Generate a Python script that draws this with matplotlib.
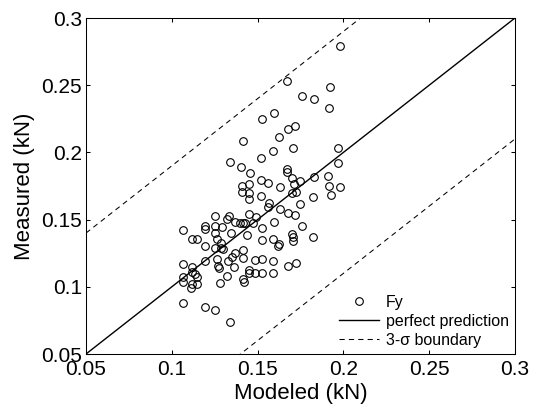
import matplotlib
matplotlib.use("Agg")
import matplotlib.pyplot as plt
from matplotlib.ticker import FormatStrFormatter
import numpy as np

plt.rcParams['font.family'] = ['Liberation Sans', 'DejaVu Sans']

modeled = [0.198, 0.167, 0.192, 0.176, 0.183, 0.1916, 0.1597, 0.1527, 0.1718, 0.1679, 0.1625, 0.1417,
           0.1339, 0.1405, 0.1456, 0.1409, 0.1452, 0.1409, 0.1448, 0.1452, 0.1448, 0.1335, 0.1323, 0.1252,
           0.1252, 0.1192, 0.1192, 0.129, 0.1368, 0.1400, 0.1415, 0.1425, 0.1475, 0.149, 0.1063, 0.1252,
           0.1343, 0.1436, 0.1116, 0.1145, 0.1262,
           0.1592, 0.1708, 0.197, 0.152, 0.197, 0.167, 0.167, 0.1699, 0.1747, 0.152, 0.1562, 0.163, 0.1714,
           0.183, 0.1912, 0.1916, 0.198, 0.1928, 0.1699, 0.1722, 0.1825, 0.152, 0.1568, 0.1562, 0.1747,
           0.163, 0.1675, 0.1718, 0.1597, 0.1527, 0.176, 0.1702, 0.1825, 0.1524, 0.1592,
           0.162, 0.1625, 0.1708, 0.1708, 0.1527, 0.1592, 0.1675, 0.1722, 0.1485, 0.1527, 0.1592,
           0.1193, 0.1285, 0.1252, 0.1285, 0.1300, 0.1063, 0.1116, 0.1193, 0.1265, 0.127, 0.1277, 0.1329,
           0.1349, 0.1368, 0.1413, 0.1417, 0.1362, 0.1323, 0.1063, 0.1116, 0.1135, 0.1149, 0.1063, 0.1116,
           0.1149, 0.111, 0.1281, 0.1413, 0.1421, 0.1452, 0.1452, 0.1485, 0.1063, 0.1193, 0.1252, 0.1339]
measured = [0.279, 0.253, 0.249, 0.242, 0.2395, 0.2328, 0.2295, 0.2246, 0.2196, 0.2172, 0.2117, 0.2085,
            0.1926, 0.1889, 0.1844, 0.1752, 0.1767, 0.1708, 0.1698, 0.1653, 0.1544, 0.1529, 0.1504, 0.1529,
            0.1455, 0.1455, 0.1430, 0.1447, 0.148, 0.1475, 0.1478, 0.1472, 0.1472, 0.152, 0.1423, 0.1398,
            0.1398, 0.1385, 0.1356, 0.1356, 0.1356,
            0.201, 0.203, 0.203, 0.196, 0.1919, 0.1876, 0.1856, 0.1812, 0.1787, 0.1795, 0.177, 0.1745, 0.1763,
            0.1814, 0.1827, 0.1752, 0.174, 0.1683, 0.1695, 0.1708, 0.1666, 0.1676, 0.1621, 0.1596, 0.1616,
            0.1579, 0.1551, 0.1534, 0.1484, 0.1435, 0.1455, 0.1391, 0.1373, 0.1350, 0.1356,
            0.1306, 0.1315, 0.134, 0.1372, 0.1207, 0.1192, 0.1157, 0.1175, 0.110, 0.110, 0.110,
            0.1306, 0.1324, 0.1291, 0.1291, 0.1280, 0.1167, 0.115, 0.1192, 0.1207, 0.1157, 0.1142, 0.1192,
            0.1224, 0.1249, 0.1274, 0.1217, 0.115, 0.1083, 0.1075, 0.1112, 0.1093, 0.1075, 0.1033, 0.1018,
            0.1018, 0.0989, 0.1026, 0.1058, 0.1038, 0.1125, 0.110, 0.120, 0.0877, 0.0852, 0.0827, 0.0736]

line_x = [0.05, 0.3]
sigma3 = 0.09
ticks = [0.05, 0.1, 0.15, 0.2, 0.25, 0.3]

fig = plt.figure(figsize=(5.33, 4.08), dpi=100)
ax = fig.add_axes([86/533, 1-354/408, (515-86)/533, (354-18)/408])

ax.plot(modeled, measured, 'o', ms=5.5, mfc='none', mec='black', mew=0.8, label='Fy')
ax.plot(line_x, line_x, '-', color='black', lw=1.0, label='perfect prediction')
lx = np.array(line_x)
ax.plot(lx, lx + sigma3, '--', color='black', lw=0.75, dashes=(5, 4), label='3-σ boundary')
ax.plot(lx, lx - sigma3, '--', color='black', lw=0.75, dashes=(5, 4))

ax.set_xlim(0.05, 0.3)
ax.set_ylim(0.05, 0.3)
ax.set_xticks(ticks)
ax.set_yticks(ticks)
ax.xaxis.set_major_formatter(FormatStrFormatter('%g'))
ax.yaxis.set_major_formatter(FormatStrFormatter('%g'))
ax.tick_params(direction='in', top=True, right=True, length=3, width=0.75, labelsize=15)
ax.tick_params(axis='x', pad=4)
ax.tick_params(axis='y', pad=3)
for s in ax.spines.values():
    s.set_linewidth(0.75)

ax.set_xlabel('Modeled (kN)', fontsize=16, labelpad=3)
ax.set_ylabel('Measured (kN)', fontsize=16, labelpad=4)

ax.legend(loc='lower right', bbox_to_anchor=(1, 0), borderaxespad=0, borderpad=0.4,
          frameon=False, fontsize=11.5, handlelength=2.5, handletextpad=0.4, labelspacing=0.25)

fig.savefig('out.png', dpi=100)
